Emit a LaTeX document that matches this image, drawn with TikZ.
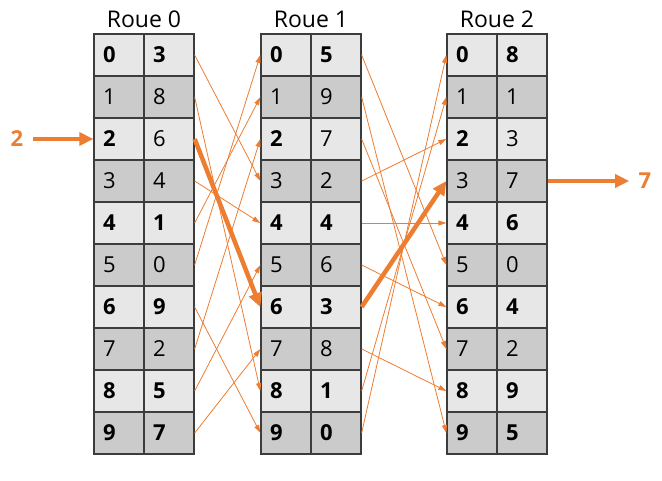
\documentclass[tikz,border=0pt]{standalone}
\usepackage{fontspec}
\setmainfont{Open Sans}
\usetikzlibrary{arrows.meta}
\definecolor{orangeroue}{HTML}{ED7D31}
\definecolor{clair}{HTML}{E7E7E7}
\definecolor{fonce}{HTML}{CBCBCB}
\definecolor{trait}{HTML}{3C3C3C}
\tikzset{
  cell/.style={draw=trait, line width=1.3pt, minimum height=42pt, inner xsep=9pt,
    text width=32pt, align=left, font=\fontsize{22}{24}\selectfont},
  fil/.style={orangeroue, line width=0.8pt, -{Triangle[length=8pt,width=5pt]}},
  gros/.style={orangeroue, line width=4.5pt, -{Triangle[length=14pt,width=13pt]}},
  titre/.style={font=\fontsize{23}{26}\selectfont},
  lettre/.style={orangeroue, font=\fontsize{22}{24}\selectfont\bfseries}
}
\begin{document}
\begin{tikzpicture}[x=1pt,y=-1pt]
  \useasboundingbox (0,0) rectangle (662,480);
  % titres
  \node[titre] (t0) at (144,19) {Roue 0};
  \node[titre] (t1) at (311,19) {Roue 1};
  \node[titre] (t2) at (497,19) {Roue 2};
  % cases : rang / roue 0 / roue 1 / roue 2 / fond / gras gauche / gras droite
  \foreach \i/\a/\b/\c/\sh/\fl/\fr in {0/3/5/8/clair/\bfseries/\bfseries,
      1/8/9/1/fonce/\mdseries/\mdseries, 2/6/7/3/clair/\bfseries/\mdseries,
      3/4/2/7/fonce/\mdseries/\mdseries, 4/1/4/6/clair/\bfseries/\bfseries,
      5/0/6/0/fonce/\mdseries/\mdseries, 6/9/3/4/clair/\bfseries/\bfseries,
      7/2/8/2/fonce/\mdseries/\mdseries, 8/5/1/9/clair/\bfseries/\bfseries,
      9/7/0/5/fonce/\bfseries/\bfseries} {
    \node[cell, fill=\sh] (w0l\i) at (119,55+42*\i) {\fl\i};
    \node[cell, fill=\sh] (w0r\i) at (169,55+42*\i) {\fr\a};
    \node[cell, fill=\sh] (w1l\i) at (286,55+42*\i) {\fl\i};
    \node[cell, fill=\sh] (w1r\i) at (336,55+42*\i) {\fr\b};
    \node[cell, fill=\sh] (w2l\i) at (472,55+42*\i) {\fl\i};
    \node[cell, fill=\sh] (w2r\i) at (522,55+42*\i) {\fr\c};
  }
  % liaisons entre les roues
  \foreach \i/\a/\b in {0/3/5, 1/8/9, 2/6/7, 3/4/2, 4/1/4, 5/0/6, 6/9/3, 7/2/8, 8/5/1, 9/7/0} {
    \ifnum\i=2 \else \draw[fil] (w0r\i.east) -- (w1l\a.west); \fi
    \ifnum\i=6 \else \draw[fil] (w1r\i.east) -- (w2l\b.west); \fi
  }
  \draw[gros] (w0r2.east) -- (w1l6.west);
  \draw[gros] (w1r6.east) -- (w2l3.west);
  % entree et sortie
  \node[lettre] (in) at (17,139) {2};
  \node[lettre] (out) at (645,181) {7};
  \draw[gros] ([xshift=6pt]in.east) -- (w0l2.west);
  \draw[gros] (w2r3.east) -- ([xshift=-6pt]out.west);
\end{tikzpicture}
\end{document}
